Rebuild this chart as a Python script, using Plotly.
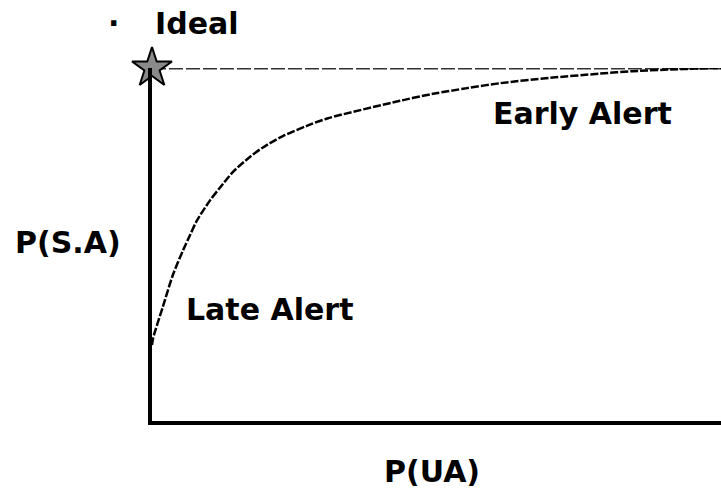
import plotly.graph_objects as go

# Alert trade-off curve: probability of successful alert vs. unnecessary alert
pua = [0.0, 0.002, 0.019, 0.037, 0.055, 0.067, 0.079, 0.102, 0.120, 0.142, 0.172,
       0.195, 0.230, 0.272, 0.308, 0.436, 0.494, 0.554, 0.612, 0.699, 0.787,
       0.845, 0.933, 1.0]
psa = [0.215, 0.235, 0.323, 0.415, 0.485, 0.527, 0.568, 0.625, 0.662, 0.705, 0.748,
       0.775, 0.807, 0.836, 0.857, 0.907, 0.927, 0.943, 0.957, 0.972, 0.984,
       0.991, 0.997, 1.0]

# Ideal operating level (P(SA)=1 everywhere) and the ideal point itself
ideal_x = [0.0, 1.0]
ideal_y = [1.0, 1.0]
ideal_point = (0.0, 1.0)

font_family = "DejaVu Sans"
label_size = 30

fig = go.Figure()

fig.add_trace(go.Scatter(
    x=ideal_x, y=ideal_y, mode="lines",
    line=dict(color="#333333", width=3, dash="14px,3px"),
    hoverinfo="skip", cliponaxis=False,
))

fig.add_trace(go.Scatter(
    x=pua, y=psa, mode="lines",
    line=dict(color="#000000", width=2.5, dash="8px,2px", shape="spline", smoothing=0.8),
    hoverinfo="skip", cliponaxis=False,
))

fig.add_trace(go.Scatter(
    x=[ideal_point[0]], y=[ideal_point[1]], mode="markers",
    marker=dict(symbol="star", size=30, color="#8a8a8a",
                line=dict(color="#000000", width=2)),
    hoverinfo="skip", cliponaxis=False,
))

annotations = [
    dict(text="Ideal", x=0.079, y=1.127, xanchor="center"),
    dict(text="Early Alert", x=0.757, y=0.87, xanchor="center"),
    dict(text="Late Alert", x=0.206, y=0.315, xanchor="center"),
    dict(text="P(S.A)", x=-0.148, y=0.507, xanchor="center"),
    dict(text="P(UA)", x=0.492, y=-0.142, xanchor="center"),
]
for a in annotations:
    fig.add_annotation(
        xref="paper", yref="paper", yanchor="middle", showarrow=False,
        font=dict(family=font_family, size=label_size, color="#000000", weight="bold"),
        **a,
    )

# small bullet in front of the "Ideal" label
fig.add_annotation(
    xref="paper", yref="paper", x=-0.068, y=1.127, xanchor="center", yanchor="middle",
    showarrow=False, text="·",
    font=dict(family=font_family, size=label_size, color="#000000", weight="bold"),
)

fig.update_layout(
    width=721, height=490,
    margin=dict(l=152, r=0, t=68, b=69),
    paper_bgcolor="white", plot_bgcolor="white",
    showlegend=False,
    xaxis=dict(range=[0, 1], showgrid=False, zeroline=False, showticklabels=False,
               ticks="", showline=True, linecolor="#000000", linewidth=4),
    yaxis=dict(range=[0, 1], showgrid=False, zeroline=False, showticklabels=False,
               ticks="", showline=True, linecolor="#000000", linewidth=4),
)

fig.write_html("out.html")
